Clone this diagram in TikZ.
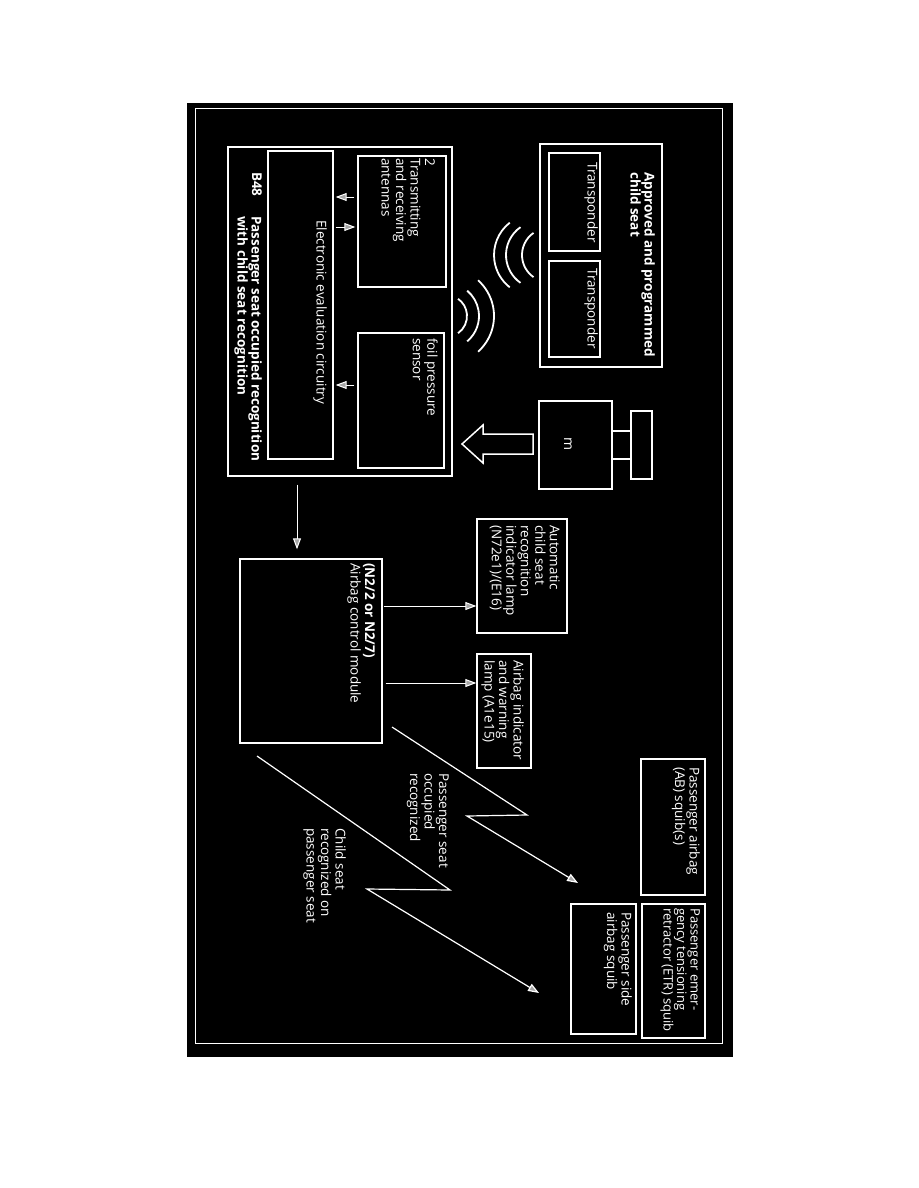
\documentclass[tikz,border=0pt]{standalone}
\usepackage{fontspec}
\setmainfont{Open Sans}
\usetikzlibrary{arrows.meta}

\begin{document}
\begin{tikzpicture}[x=1pt,y=-1pt,
  box/.style={draw=white,line width=1.4pt,inner sep=0pt},
  txt/.style={white,rotate=-90,anchor=north west,inner sep=0pt,align=left,font=\fontsize{13.5}{14.5}\selectfont},
  sig/.style={white,line width=1pt,-{Triangle[length=11pt,width=8pt,fill=gray!70]}},
  zig/.style={white,line width=1.2pt,line join=miter,-{Triangle[length=11pt,width=8pt,fill=gray!70]}},
  wave/.style={white,line width=1.8pt}]
  \useasboundingbox (0,0) rectangle (918,1188);
  \fill[white] (0,0) rectangle (918,1188);
  \fill[black] (187,103) rectangle (733,1057);
  \draw[white,line width=0.8pt] (195,108) rectangle (722,1043);

  \node[box,minimum width=122pt,minimum height=223pt] (seat) at (601,255.5) {};
  \node[box,minimum width=51pt,minimum height=98pt] (tr1) at (574.5,202) {};
  \node[box,minimum width=51pt,minimum height=96pt] (tr2) at (574.5,309) {};
  \node[txt,font=\fontsize{13.5}{14}\selectfont\bfseries] (seatlbl) at (655,172) {Approved and programmed\\child seat};
  \node[txt] (tr1lbl) at (598,162) {Transponder};
  \node[txt] (tr2lbl) at (598,268) {Transponder};

  \node[box,minimum width=224pt,minimum height=329pt] (b48) at (340,311.5) {};
  \node[box,minimum width=65pt,minimum height=308pt] (eval) at (300.5,305) {};
  \node[box,minimum width=88pt,minimum height=131pt] (ant) at (402,221.5) {};
  \node[box,minimum width=86pt,minimum height=135pt] (foil) at (401,400.5) {};
  \node[txt,font=\fontsize{13.5}{14}\selectfont\bfseries] (b48id) at (262,172) {B48};
  \node[txt,font=\fontsize{13.5}{14}\selectfont\bfseries] (b48lbl) at (262,216) {Passenger seat occupied recognition\\with child seat recognition};
  \node[txt] (evallbl) at (327,220) {Electronic evaluation circuitry};
  \node[txt] (antlbl) at (435,158) {2\\Transmitting\\and receiving\\antennas};
  \node[txt] (foillbl) at (438,338) {foil pressure\\sensor};
  \draw[sig,shorten <=3pt,shorten >=2pt] (ant.west |- 0,197) -- (eval.east |- 0,197);
  \draw[sig,shorten <=2pt,shorten >=2pt] (eval.east |- 0,227) -- (ant.west |- 0,227);
  \draw[sig,shorten <=3pt,shorten >=2pt] (foil.west |- 0,385) -- (eval.east |- 0,385);

  \coordinate (wa) at (540,255);
  \foreach \d/\r/\s/\e in {-5/41/128/232,0/34/125/235,9/27/125/235}
    \draw[wave] ([xshift=\d pt]wa) ++(\s:\r pt) arc[start angle=\s,end angle=\e,radius=\r pt];
  \coordinate (wb) at (446,316);
  \foreach \r/\s/\e in {48/-48/48,33/-50/50,21/-55/55}
    \draw[wave] (wb) ++(\s:\r pt) arc[start angle=\s,end angle=\e,radius=\r pt];

  \node[box,minimum width=73pt,minimum height=88pt] (mass) at (575.5,445) {};
  \node[box,minimum width=21pt,minimum height=68pt] (back) at (641.5,445) {};
  \node[white,rotate=-90,inner sep=0pt,font=\fontsize{14}{14}\selectfont] (masslbl) at (568,444) {m};
  \draw[white,line width=1.4pt] (mass.east |- 0,431) -- (back.west |- 0,431)
    (mass.east |- 0,459) -- (back.west |- 0,459);
  \coordinate (push) at (462,444);
  \draw[white,line width=1.5pt,line join=miter] (push) -- ++(21,-19) -- ++(0,9) -- ++(50,0)
    -- ++(0,20) -- ++(-50,0) -- ++(0,9) -- cycle;

  \node[box,minimum width=142pt,minimum height=184pt] (acm) at (311,651) {};
  \node[txt] (acmlbl) at (375,563) {\textbf{(N2/2 or N2/7)}\\Airbag control module};
  \node[box,minimum width=90pt,minimum height=114pt] (csr) at (522,576) {};
  \node[txt] (csrlbl) at (560,525) {Automatic\\child seat\\recognition\\indicator lamp\\(N72e1)/(E16)};
  \node[box,minimum width=54pt,minimum height=114pt] (warn) at (504,711) {};
  \node[txt] (warnlbl) at (524,660) {Airbag indicator\\and warning\\lamp (A1e15)};
  \draw[sig,shorten <=8pt,shorten >=9pt] (b48.south -| 297,0) -- (acm.north -| 297,0);
  \draw[sig,shorten <=1pt] (acm.east |- 0,606) -- (csr.west |- 0,606);
  \draw[sig,shorten <=3pt] (acm.east |- 0,683) -- (warn.west |- 0,683);

  \node[box,minimum width=64pt,minimum height=136pt] (absq) at (673,827) {};
  \node[txt] (absqlbl) at (700,767) {Passenger airbag\\(AB) squib(s)};
  \node[box,minimum width=63pt,minimum height=134pt] (etr) at (673.5,971) {};
  \node[txt,font=\fontsize{13}{13.5}\selectfont] (etrlbl) at (700,908) {Passenger emer-\\gency tensioning\\retractor (ETR) squib};
  \node[box,minimum width=65pt,minimum height=130pt] (side) at (603.5,969) {};
  \node[txt] (sidelbl) at (632,912) {Passenger side\\airbag squib};

  \coordinate (occA) at (392,727);
  \coordinate (occB) at (578,883);
  \draw[zig] (occA) -- (527,815) -- (467,816) -- (occB);
  \node[txt] (occlbl) at (449,773) {Passenger seat\\occupied\\recognized};
  \coordinate (chA) at (257,756);
  \coordinate (chB) at (539,993);
  \draw[zig] (chA) -- (450,890) -- (367,889) -- (chB);
  \node[txt] (chlbl) at (346,828) {Child seat\\recognized on\\passenger seat};
\end{tikzpicture}
\end{document}
